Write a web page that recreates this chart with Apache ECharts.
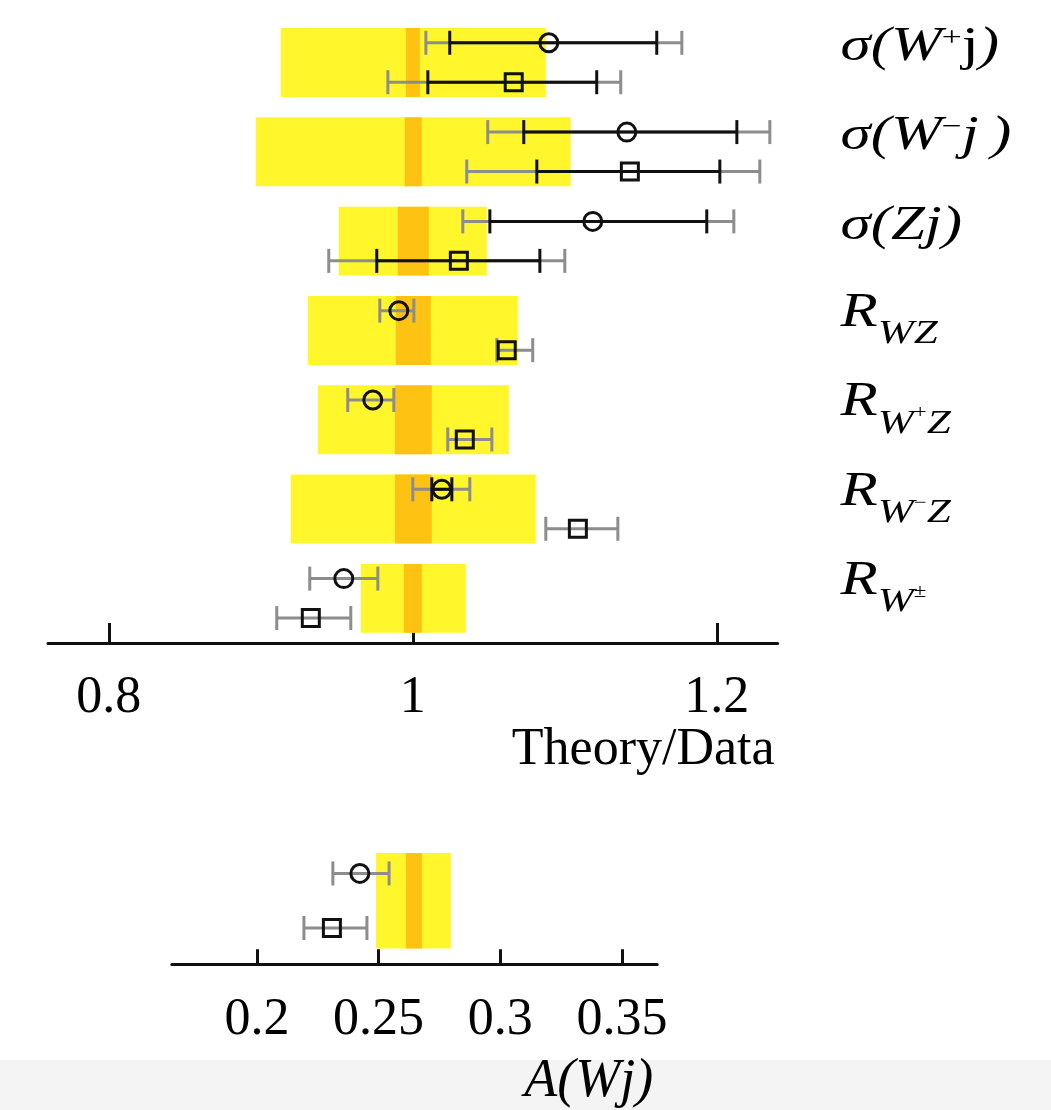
<!DOCTYPE html>
<html><head><meta charset="utf-8">
<script src="https://cdn.jsdelivr.net/npm/echarts@6/dist/echarts.min.js"></script>
<style>html,body{margin:0;padding:0;background:#fff}#c{width:1051px;height:1110px}</style>
</head><body><div id="c"></div>
<script>
// ---- data ----
const rowLabels = [
  '{m|σ(W}{sup|+}{r|j}{m|)}',
  '{m|σ(W}{sup|−}{m|j\u2009)}',
  '{m|σ(Zj)}',
  '{R|R}{sub|WZ}',
  '{R|R}{sub|W}{ss|+}{sub|Z}',
  '{R|R}{sub|W}{ss|−}{sub|Z}',
  '{R|R}{sub|W}{ss|±}'
];
const topAxisTitle = 'Theory/Data';
const bottomAxisTitle = 'A(Wj)';

const theoryBandLo = [0.9132, 0.8967, 0.9513, 0.9309, 0.9375, 0.9197, 0.9658];
const theoryBandHi = [1.0875, 1.1039, 1.0487, 1.0691, 1.0632, 1.0809, 1.0349];
const theoryCoreLo = [0.9954, 0.9947, 0.9901, 0.9888, 0.9882, 0.9882, 0.9941];
const theoryCoreHi = [1.0046, 1.0059, 1.0105, 1.0118, 1.0125, 1.0125, 1.0059];

const circleVal    = [1.0895, 1.1408, 1.1184, 0.9908, 0.9737, 1.0191, 0.9546];
const circleStatLo = [1.0243, 1.0730, 1.0507, null, null, 1.0125, null];
const circleStatHi = [1.1605, 1.2132, 1.1934, null, null, 1.0257, null];
const circleTotLo  = [1.0086, 1.0493, 1.0329, 0.9783, 0.9572, 1.0000, 0.9322];
const circleTotHi  = [1.1770, 1.2349, 1.2112, 1.0007, 0.9875, 1.0375, 0.9770];

const squareVal    = [1.0664, 1.1428, 1.0303, 1.0618, 1.0342, 1.1086, 0.9329];
const squareStatLo = [1.0099, 1.0816, 0.9763, null, null, null, null];
const squareStatHi = [1.1210, 1.2020, 1.0836, null, null, null, null];
const squareTotLo  = [0.9836, 1.0355, 0.9447, 1.0553, 1.0230, 1.0875, 0.9105];
const squareTotHi  = [1.1368, 1.2283, 1.1000, 1.0789, 1.0520, 1.1349, 0.9592];

const topTicks = [0.8, 1, 1.2];
const TOP_MIN = 0.76, TOP_MAX = 1.24;

const asymBandLo = [0.2489], asymBandHi = [0.2797];
const asymCoreLo = [0.2612], asymCoreHi = [0.2678];
const asymCircle = [0.2423], asymCircleTotLo = [0.2312], asymCircleTotHi = [0.2543];
const asymSquare = [0.2308], asymSquareTotLo = [0.2193], asymSquareTotHi = [0.2452];
const bottomTicks = [0.2, 0.25, 0.3, 0.35];
const BOT_MIN = 0.165, BOT_MAX = 0.3645;

// ---- style / layout constants ----
const TOP_Y_MIN = -0.7, TOP_Y_MAX = 6.5, BOT_Y_MIN = -0.5, BOT_Y_MAX = 0.514;
const YELLOW = '#fff72c', ORANGE = '#fdc212', GRAY = '#8d8d8d', BLACK = '#111';
const ROW = 0.221, BAND = 0.386, CAP = 12;
const SERIF = '"Liberation Serif", "DejaVu Serif", serif';
const RICH = {
  m:   {fontFamily: SERIF, fontStyle: 'italic', fontSize: 48, lineHeight: 48, fill: '#000', padding: [0, 0, 30, 0]},
  r:   {fontFamily: SERIF, fontSize: 48, lineHeight: 48, fill: '#000', padding: [0, 0, 30, 0]},
  sup: {fontFamily: SERIF, fontSize: 28, lineHeight: 28, fill: '#000', padding: [0, 0, 48, 0]},
  R:   {fontFamily: SERIF, fontStyle: 'italic', fontSize: 48, lineHeight: 48, fill: '#000', padding: [0, 0, 34, 0]},
  sub: {fontFamily: SERIF, fontStyle: 'italic', fontSize: 34, lineHeight: 34, fill: '#000', padding: [8, 0, 0, 0]},
  ss:  {fontFamily: SERIF, fontSize: 18, lineHeight: 18, fill: '#000', padding: [0, 0, 12, 0]}
};

const groups = rowLabels.map((_, i) => i);

function renderBand(params, api) {
  const g = api.value(0);
  const a = api.coord([api.value(1), g - BAND]);
  const b = api.coord([api.value(2), g + BAND]);
  const c = api.coord([api.value(3), g - BAND]);
  const d = api.coord([api.value(4), g + BAND]);
  return {type: 'group', children: [
    {type: 'rect', shape: {x: a[0], y: a[1], width: b[0] - a[0], height: b[1] - a[1]}, style: {fill: YELLOW}},
    {type: 'rect', shape: {x: c[0], y: c[1], width: d[0] - c[0], height: d[1] - c[1]}, style: {fill: ORANGE}}
  ]};
}
function renderErr(params, api) {
  const y = api.value(0);
  const children = [];
  const add = (lo, hi, color) => {
    if (lo == null || hi == null || !isFinite(lo) || !isFinite(hi)) return;
    const a = api.coord([lo, y]), b = api.coord([hi, y]);
    const st = {stroke: color, lineWidth: 3};
    children.push({type: 'line', shape: {x1: a[0], y1: a[1], x2: b[0], y2: b[1]}, style: st});
    children.push({type: 'line', shape: {x1: a[0], y1: a[1] - CAP, x2: a[0], y2: a[1] + CAP}, style: st});
    children.push({type: 'line', shape: {x1: b[0], y1: b[1] - CAP, x2: b[0], y2: b[1] + CAP}, style: st});
  };
  add(api.value(1), api.value(2), GRAY);
  add(api.value(3), api.value(4), BLACK);
  return {type: 'group', children};
}
function renderLabel(params, api) {
  const i = api.value(1);
  const p = api.coord([api.value(0), i]);
  return {type: 'text', x: p[0] + 63, y: p[1], scaleX: 1.27,
          style: {text: rowLabels[i], rich: RICH, align: 'left', verticalAlign: 'middle', fill: '#000'}};
}
function makeTitleRenderer(text, dx, dy, italic, size) {
  return function (params, api) {
    const p = api.coord([api.value(0), api.value(1)]);
    return {type: 'text', x: p[0] + dx, y: p[1] + dy,
            style: {text, fontFamily: SERIF, fontStyle: italic ? 'italic' : 'normal', fontSize: size,
                    fill: '#000', align: 'right', verticalAlign: 'middle'}};
  };
}

const topBands = groups.map(i => [i, theoryBandLo[i], theoryBandHi[i], theoryCoreLo[i], theoryCoreHi[i]]);
const topErrs = [];
groups.forEach(i => {
  topErrs.push([i - ROW, circleTotLo[i], circleTotHi[i], circleStatLo[i], circleStatHi[i]]);
  topErrs.push([i + ROW, squareTotLo[i], squareTotHi[i], squareStatLo[i], squareStatHi[i]]);
});
const topCircles = groups.map(i => [circleVal[i], i - ROW]);
const topSquares = groups.map(i => [squareVal[i], i + ROW]);
const topLabelData = groups.map(i => [TOP_MAX, i]);

const botBands = asymBandLo.map((v, i) => [i, v, asymBandHi[i], asymCoreLo[i], asymCoreHi[i]]);
const botErrs = [];
asymCircle.forEach((v, i) => {
  botErrs.push([i - ROW, asymCircleTotLo[i], asymCircleTotHi[i], null, null]);
  botErrs.push([i + ROW, asymSquareTotLo[i], asymSquareTotHi[i], null, null]);
});
const botCircles = asymCircle.map((v, i) => [v, i - ROW]);
const botSquares = asymSquare.map((v, i) => [v, i + ROW]);

const markerStyle = {color: 'rgba(0,0,0,0)', borderColor: BLACK, borderWidth: 3, opacity: 1};
const hiddenY = {axisLine: {show: false}, axisTick: {show: false}, splitLine: {show: false}, axisLabel: {show: false}};

const chart = echarts.init(document.getElementById('c'), null, {renderer: 'canvas'});
chart.setOption({
  animation: false,
  backgroundColor: '#fff',
  graphic: [{type: 'rect', left: 0, bottom: 0, z: -100, shape: {width: 1051, height: 50}, style: {fill: '#f4f4f4'}}],
  grid: [
    {left: 48, top: 0, width: 729.6, height: 643, outerBoundsMode: 'none', containLabel: false},
    {left: 171.8, top: 839, width: 485.4, height: 125.2, outerBoundsMode: 'none', containLabel: false}
  ],
  xAxis: [
    {gridIndex: 0, type: 'value', min: TOP_MIN, max: TOP_MAX,
     axisLine: {onZero: false, lineStyle: {color: BLACK, width: 3}},
     axisTick: {inside: true, length: 20, customValues: topTicks, lineStyle: {color: BLACK, width: 3}},
     axisLabel: {customValues: topTicks, formatter: v => String(v), margin: 29,
                 fontFamily: SERIF, fontSize: 52, color: '#000'},
     splitLine: {show: false}},
    {gridIndex: 1, type: 'value', min: BOT_MIN, max: BOT_MAX,
     axisLine: {onZero: false, lineStyle: {color: BLACK, width: 3}},
     axisTick: {inside: true, length: 15, customValues: bottomTicks, lineStyle: {color: BLACK, width: 3}},
     axisLabel: {customValues: bottomTicks, formatter: v => String(v), margin: 30,
                 fontFamily: SERIF, fontSize: 52, color: '#000'},
     splitLine: {show: false}}
  ],
  yAxis: [
    Object.assign({gridIndex: 0, type: 'value', inverse: true, min: TOP_Y_MIN, max: TOP_Y_MAX}, hiddenY),
    Object.assign({gridIndex: 1, type: 'value', inverse: true, min: BOT_Y_MIN, max: BOT_Y_MAX}, hiddenY)
  ],
  series: [
    {type: 'custom', xAxisIndex: 0, yAxisIndex: 0, z: 1, renderItem: renderBand, data: topBands, encode: {x: [1, 2], y: 0}, silent: true},
    {type: 'custom', xAxisIndex: 0, yAxisIndex: 0, z: 2, renderItem: renderErr, data: topErrs, encode: {x: [1, 2], y: 0}, silent: true},
    {type: 'scatter', xAxisIndex: 0, yAxisIndex: 0, z: 3, symbol: 'circle', symbolSize: 18, itemStyle: markerStyle, data: topCircles, silent: true},
    {type: 'scatter', xAxisIndex: 0, yAxisIndex: 0, z: 3, symbol: 'rect', symbolSize: 17, itemStyle: markerStyle, data: topSquares, silent: true},
    {type: 'custom', xAxisIndex: 0, yAxisIndex: 0, z: 4, renderItem: renderLabel, data: topLabelData, encode: {x: 0, y: 1}, clip: false, silent: true},
    {type: 'custom', xAxisIndex: 0, yAxisIndex: 0, z: 4, renderItem: makeTitleRenderer(topAxisTitle, -3, 107, false, 52),
     data: [[TOP_MAX, TOP_Y_MAX]], encode: {x: 0, y: 1}, clip: false, silent: true},
    {type: 'custom', xAxisIndex: 1, yAxisIndex: 1, z: 1, renderItem: renderBand, data: botBands, encode: {x: [1, 2], y: 0}, silent: true},
    {type: 'custom', xAxisIndex: 1, yAxisIndex: 1, z: 2, renderItem: renderErr, data: botErrs, encode: {x: [1, 2], y: 0}, silent: true},
    {type: 'scatter', xAxisIndex: 1, yAxisIndex: 1, z: 3, symbol: 'circle', symbolSize: 18, itemStyle: markerStyle, data: botCircles, silent: true},
    {type: 'scatter', xAxisIndex: 1, yAxisIndex: 1, z: 3, symbol: 'rect', symbolSize: 17, itemStyle: markerStyle, data: botSquares, silent: true},
    {type: 'custom', xAxisIndex: 1, yAxisIndex: 1, z: 4, renderItem: makeTitleRenderer(bottomAxisTitle, -4, 118, true, 54),
     data: [[BOT_MAX, BOT_Y_MAX]], encode: {x: 0, y: 1}, clip: false, silent: true}
  ]
});
</script></body></html>
